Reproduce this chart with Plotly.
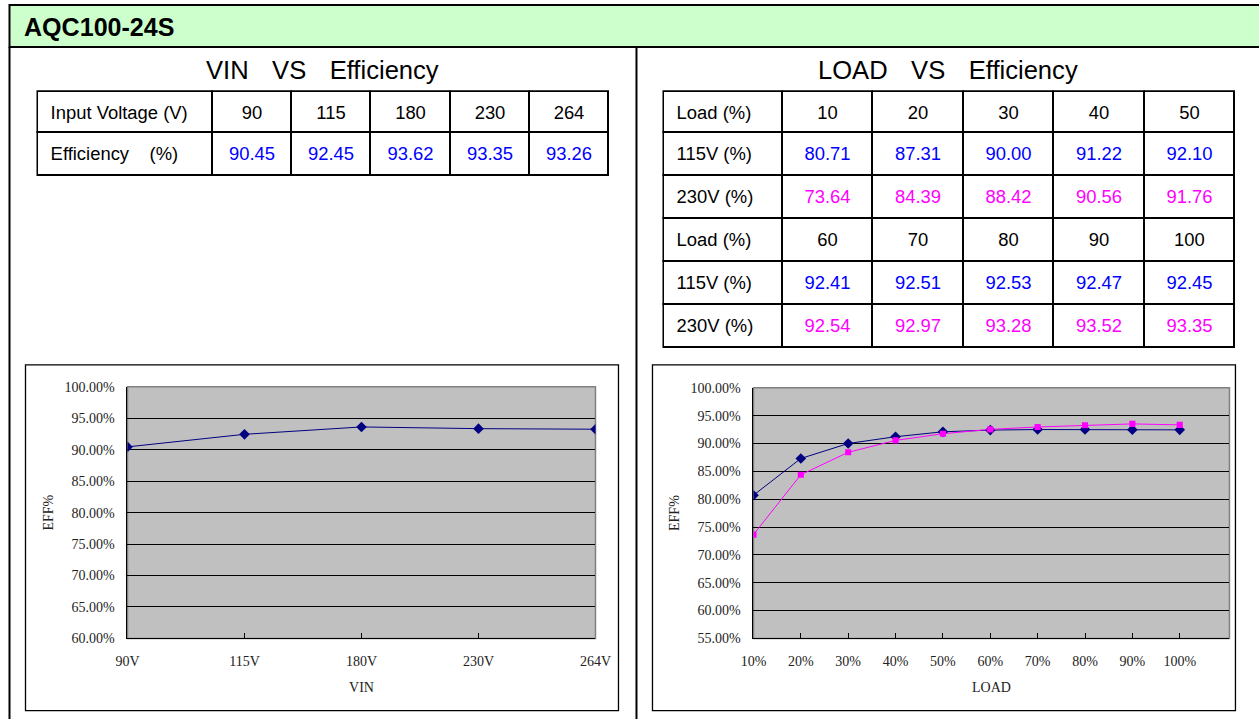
import plotly.graph_objects as go

W, H = 1259, 719
# positions below are given in reference-picture pixels; this mapping turns them
# into paper fractions for the rendered plot area
S, AX, AY = 0.977, 12.5, 7.0

# ---------------- data ----------------
vin_labels = ["90V", "115V", "180V", "230V", "264V"]
vin_values = ["90", "115", "180", "230", "264"]
vin_eff = [90.45, 92.45, 93.62, 93.35, 93.26]

load_labels = ["10%", "20%", "30%", "40%", "50%", "60%", "70%", "80%", "90%", "100%"]
load_values = ["10", "20", "30", "40", "50", "60", "70", "80", "90", "100"]
eff_115 = [80.71, 87.31, 90.00, 91.22, 92.10, 92.41, 92.51, 92.53, 92.47, 92.45]
eff_230 = [73.64, 84.39, 88.42, 90.56, 91.76, 92.54, 92.97, 93.28, 93.52, 93.35]

title_text = "AQC100-24S"
BLUE = "#0000ff"
MAG = "#ff00ff"
NAVY = "#000080"


def e(v):
    return v / S


def px(x):
    return ((x - AX) / S) / W


def py(y):
    return 1 - ((y - AY) / S) / H


SANS = "Liberation Sans, Arial, sans-serif"
SERIF = "Liberation Serif, Times New Roman, serif"
NB = "\u00a0"
TFS = e(18)
TEXT_SHIFT = 6  # table text sits this much lower than the grid top
HDR_H, ROW_H = 41, 43

fig = go.Figure()


def add_table(x0, x1, ytop, ybot, widths, header, cells, colors):
    aligns = ["left"] + ["center"] * (len(widths) - 1)
    # grid (lines and white fill)
    fig.add_trace(go.Table(
        domain=dict(x=[px(x0), px(x1)], y=[py(ybot), py(ytop)]),
        columnwidth=widths,
        header=dict(values=["" for _ in header], height=HDR_H,
                    line=dict(color="black", width=2), fill=dict(color="white"),
                    font=dict(family=SANS, size=TFS)),
        cells=dict(values=[["" for _ in col] for col in cells], height=ROW_H,
                   line=dict(color="black", width=2), fill=dict(color="white"),
                   font=dict(family=SANS, size=TFS)),
    ))
    # text, vertically centred in the grid cells
    fig.add_trace(go.Table(
        domain=dict(x=[px(x0), px(x1)], y=[py(ybot + TEXT_SHIFT), py(ytop + TEXT_SHIFT)]),
        columnwidth=widths,
        header=dict(values=header, height=HDR_H, align=aligns,
                    line=dict(color="rgba(0,0,0,0)", width=0),
                    fill=dict(color="rgba(0,0,0,0)"),
                    font=dict(family=SANS, size=TFS, color="black")),
        cells=dict(values=cells, height=ROW_H, align=aligns,
                   line=dict(color="rgba(0,0,0,0)", width=0),
                   fill=dict(color="rgba(0,0,0,0)"),
                   font=dict(family=SANS, size=TFS, color=colors)),
    ))


# ---------------- tables ----------------
lt_header = [NB + "Input Voltage (V)"] + vin_values
lt_cells = [[NB + "Efficiency" + NB * 4 + "(%)"]] + [[f"{v:.2f}"] for v in vin_eff]
lt_colors = [["black"]] + [[BLUE] for _ in vin_eff]
add_table(37, 609, 91, 200, [175, 79, 79, 80, 79, 79], lt_header, lt_cells, lt_colors)

rt_header = [NB + "Load (%)"] + load_values[:5]
rt_cells = [[NB + t for t in ["115V (%)", "230V (%)", "Load (%)", "115V (%)", "230V (%)"]]]
rt_colors = [["black"] * 5]
for i in range(5):
    rt_cells.append([f"{eff_115[i]:.2f}", f"{eff_230[i]:.2f}", load_values[i + 5],
                     f"{eff_115[i + 5]:.2f}", f"{eff_230[i + 5]:.2f}"])
    rt_colors.append([BLUE, MAG, "black", BLUE, MAG])
add_table(663, 1235, 91, 362, [119, 90, 91, 90, 91, 90], rt_header, rt_cells, rt_colors)

# ---------------- charts ----------------
fig.add_trace(go.Scatter(
    x=vin_labels, y=vin_eff, mode="lines+markers", xaxis="x", yaxis="y",
    line=dict(color=NAVY, width=1), marker=dict(symbol="diamond", size=e(8), color=NAVY),
    showlegend=False))
fig.add_trace(go.Scatter(
    x=load_labels, y=eff_115, mode="lines+markers", xaxis="x2", yaxis="y2",
    line=dict(color=NAVY, width=1), marker=dict(symbol="diamond", size=e(8), color=NAVY),
    showlegend=False, name="115V"))
fig.add_trace(go.Scatter(
    x=load_labels, y=eff_230, mode="lines+markers", xaxis="x2", yaxis="y2",
    line=dict(color=MAG, width=1), marker=dict(symbol="square", size=e(6), color=MAG),
    showlegend=False, name="230V"))

tickfont = dict(family=SERIF, size=e(13.7), color="#222222")
titlefont = dict(family=SERIF, size=e(13.7), color="#222222")

xcommon = dict(type="category", showgrid=False, zeroline=False, showline=True,
               linecolor="black", linewidth=1, ticks="inside", ticklen=5,
               tickcolor="black", tickfont=tickfont, fixedrange=True,
               ticklabelstandoff=10)
ycommon = dict(showgrid=True, gridcolor="black", gridwidth=1, zeroline=False,
               showline=True, linecolor="black", linewidth=1, ticks="",
               tickfont=tickfont, ticksuffix="%", tickformat=".2f", dtick=5,
               fixedrange=True, ticklabelstandoff=9)

fig.update_layout(
    width=W, height=H, autosize=False,
    margin=dict(l=0, r=0, t=0, b=0),
    paper_bgcolor="white", plot_bgcolor="#c0c0c0",
    showlegend=False,
    xaxis=dict(**xcommon, domain=[px(127), px(595)], anchor="y", range=[0, 4],
               title=dict(text="VIN", font=titlefont, standoff=13)),
    yaxis=dict(**ycommon, domain=[py(637), py(386)], anchor="x", range=[60, 100],
               title=dict(text="EFF%", font=titlefont, standoff=7)),
    xaxis2=dict(**xcommon, domain=[px(753), px(1229)], anchor="y2", range=[0, 10.05],
                title=dict(text="LOAD", font=titlefont, standoff=13)),
    yaxis2=dict(**ycommon, domain=[py(637), py(387)], anchor="x2", range=[55, 100],
                title=dict(text="EFF%", font=titlefont, standoff=7)),
)

shapes = []
shapes.append(dict(type="rect", xref="paper", yref="paper", x0=px(9), x1=px(1290),
                   y0=py(47), y1=py(5), fillcolor="#ccffcc",
                   line=dict(color="black", width=2), layer="below"))
shapes.append(dict(type="line", xref="paper", yref="paper", x0=px(9), x1=px(9),
                   y0=py(47), y1=py(740), line=dict(color="black", width=2)))
shapes.append(dict(type="line", xref="paper", yref="paper", x0=px(636), x1=px(636),
                   y0=py(47), y1=py(740), line=dict(color="black", width=2)))
for (x0, x1) in [(25, 618), (652, 1235)]:
    shapes.append(dict(type="rect", xref="paper", yref="paper", x0=px(x0), x1=px(x1),
                       y0=py(709), y1=py(364), line=dict(color="black", width=1.3),
                       layer="below"))
for (x0, x1, yt) in [(127, 595, 386), (753, 1229, 387)]:
    shapes.append(dict(type="rect", xref="paper", yref="paper", x0=px(x0), x1=px(x1),
                       y0=py(637), y1=py(yt), line=dict(color="#808080", width=1.5),
                       layer="below"))
fig.update_layout(shapes=shapes)

annotations = [
    dict(text=f"<b>{title_text}</b>", x=px(22), y=py(27), xref="paper", yref="paper",
         xanchor="left", yanchor="middle", showarrow=False,
         font=dict(family=SANS, size=e(24.5), color="black")),
    dict(text="VIN" + NB * 3 + "\u200a" + "VS" + NB * 3 + "\u200a" + "Efficiency",
         x=px(322), y=py(70),
         xref="paper", yref="paper", xanchor="center", yanchor="middle", showarrow=False,
         font=dict(family=SANS, size=e(25), color="black")),
    dict(text="LOAD" + NB * 3 + "\u200a" + "VS" + NB * 3 + "\u200a" + "Efficiency",
         x=px(948), y=py(70),
         xref="paper", yref="paper", xanchor="center", yanchor="middle", showarrow=False,
         font=dict(family=SANS, size=e(25), color="black")),
]
fig.update_layout(annotations=annotations)

fig.write_html(
    "out.html",
    config={"displayModeBar": False},
    post_script="document.body.style.margin='0';document.body.style.padding='0';"
                "document.body.style.overflow='hidden';"
                "document.documentElement.style.overflow='hidden';",
)
